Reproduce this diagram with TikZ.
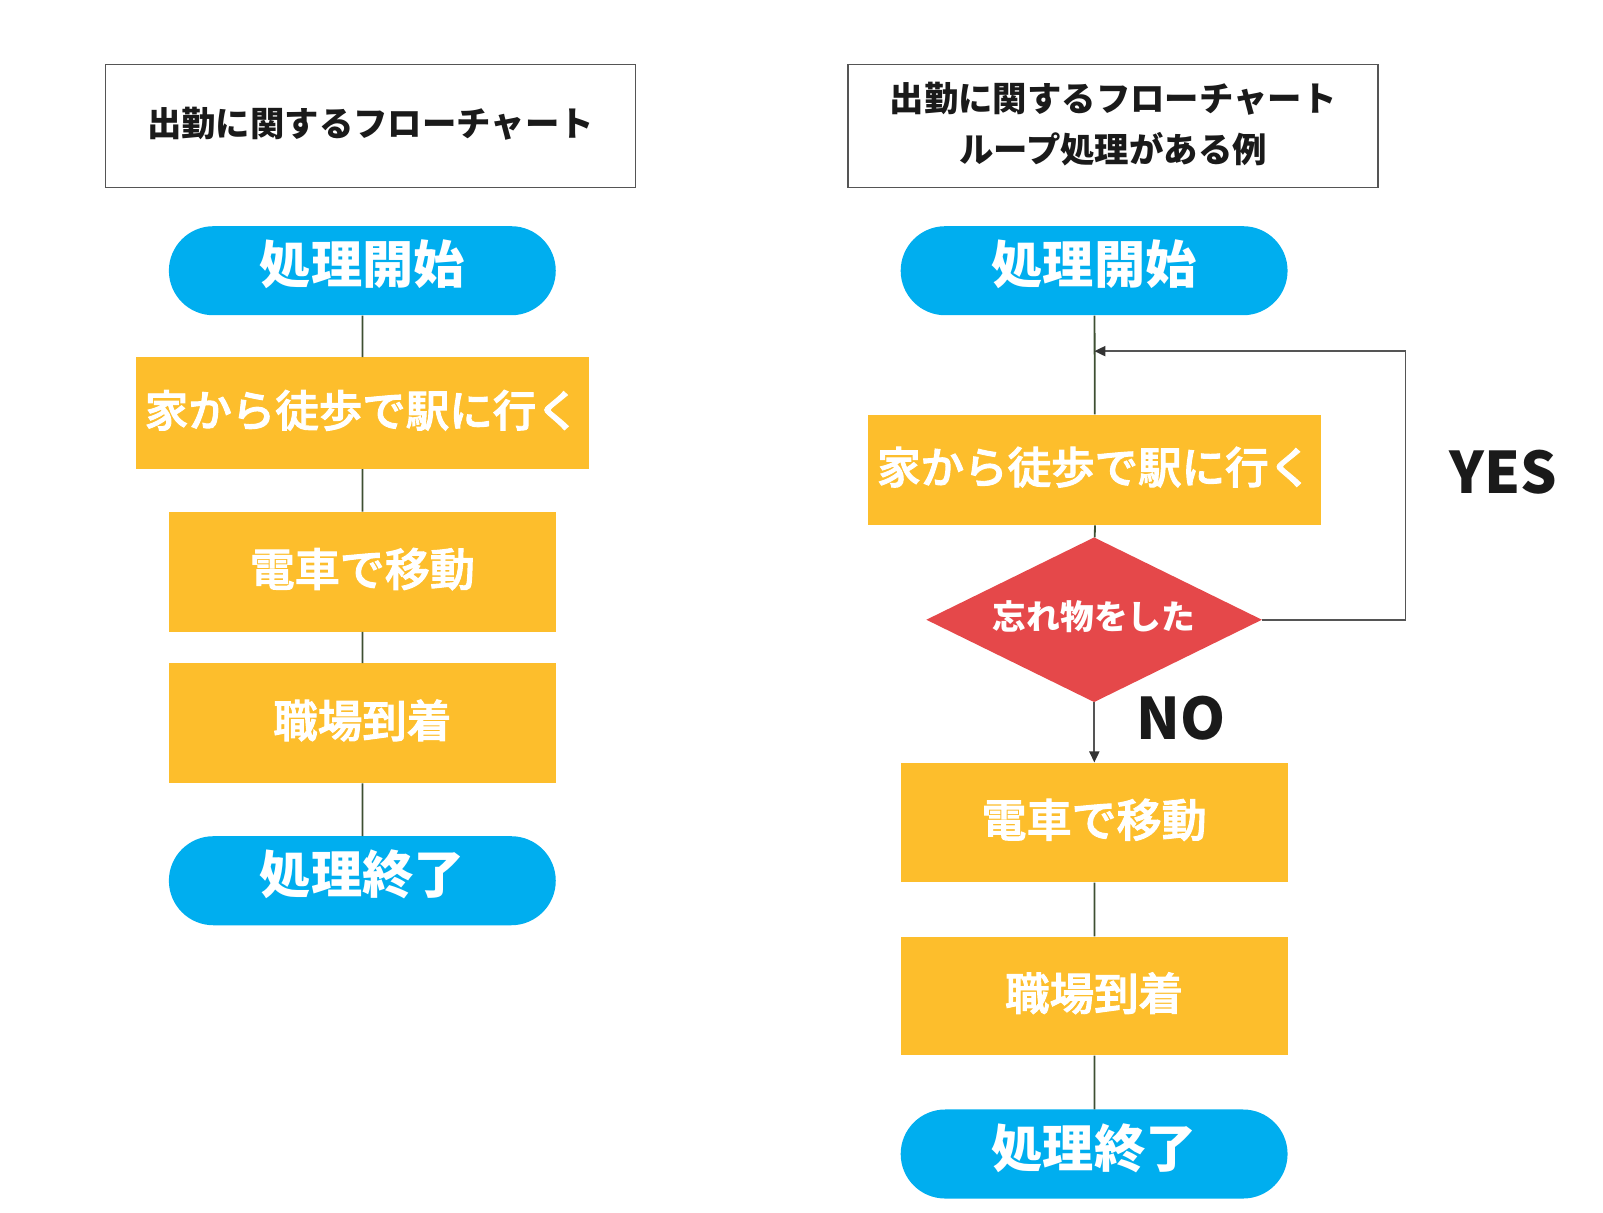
\documentclass[tikz,border=0pt]{standalone}
\usepackage{fontspec}
\setmainfont{Noto Sans CJK JP}
\newfontfamily\cjkmed{Noto Sans CJK JP Medium}[FakeBold=2.2]
\usetikzlibrary{shapes.geometric,shapes.misc,arrows.meta}
\definecolor{tblue}{RGB}{0,174,239}
\definecolor{torange}{RGB}{253,190,44}
\definecolor{tred}{RGB}{229,72,74}
\definecolor{tline}{RGB}{62,80,50}
\definecolor{tgrey}{RGB}{85,85,85}
\definecolor{ttext}{RGB}{26,26,26}
\begin{document}
\begin{tikzpicture}[x=1pt,y=-1pt,scale=1.0235,transform shape,
  titlebox/.style={draw=tgrey,line width=1.5pt,fill=white,minimum width=518pt,minimum height=120pt,inner sep=0pt,text=ttext,font=\fontsize{33.6}{49}\selectfont\bfseries,align=center,text depth=7pt},
  term/.style={rounded rectangle,fill=tblue,minimum width=378pt,minimum height=87pt,inner sep=0pt,text=white,font=\fontsize{50}{60}\selectfont\bfseries,text depth=17pt},
  proc/.style={rectangle,fill=torange,inner sep=0pt,text=white,text depth=9pt},
  dec/.style={diamond,fill=tred,minimum width=328pt,minimum height=161pt,inner sep=0pt,aspect=2,text=white,font=\fontsize{33}{40}\selectfont\bfseries,text depth=10pt},
  conn/.style={draw=tline,line width=1.8pt},
  loop/.style={draw=tgrey,line width=1.8pt},
  tip/.style={-{Triangle[length=11pt,width=10pt,color=black!80]}},
  lbl/.style={text=ttext,font=\fontsize{56}{60}\selectfont\bfseries,inner sep=0pt}
]
\useasboundingbox (0,0) rectangle (1566.2,1185.1);
% left column
\node[titlebox] (lt) at (362,123) {出勤に関するフローチャート};
\node[term] (ls) at (354,264.5) {処理開始};
\node[proc,minimum width=442pt,minimum height=109pt,font=\cjkmed\fontsize{42.5}{50}\selectfont] (l1) at (354,403.5) {家から徒歩で駅に行く};
\node[proc,minimum width=378pt,minimum height=117pt,font=\cjkmed\fontsize{44}{50}\selectfont] (l2) at (354,558.5) {電車で移動};
\node[proc,minimum width=378pt,minimum height=117pt,font=\cjkmed\fontsize{43.5}{50}\selectfont] (l3) at (354,706.5) {職場到着};
\node[term] (le) at (354,860.5) {処理終了};
\draw[conn] (ls) -- (l1);
\draw[conn] (l1) -- (l2);
\draw[conn] (l2) -- (l3);
\draw[conn] (l3) -- (le);
% right column
\node[titlebox] (rt) at (1087.5,123) {出勤に関するフローチャート\\ループ処理がある例};
\node[term] (rs) at (1069,264.5) {処理開始};
\node[proc,minimum width=443pt,minimum height=108pt,font=\cjkmed\fontsize{42.5}{50}\selectfont] (r1) at (1069.5,459) {家から徒歩で駅に行く};
\node[dec] (rd) at (1069,605.5) {忘れ物をした};
\node[proc,minimum width=378pt,minimum height=117pt,font=\cjkmed\fontsize{44}{50}\selectfont] (r2) at (1069,803.5) {電車で移動};
\node[proc,minimum width=378pt,minimum height=116pt,font=\cjkmed\fontsize{43.5}{50}\selectfont] (r3) at (1069,973) {職場到着};
\node[term] (re) at (1069,1127.5) {処理終了};
\coordinate (lp) at (1069,343);
\coordinate (c1) at (1373,605.5);
\coordinate (c2) at (1373,343);
\draw[conn] (rs) -- (r1);
\draw[conn] (r1) -- (rd);
\draw[loop,tip] (rd.east) -- (c1) -- (c2) -- (lp);
\draw[loop,tip] (rd.south) -- (r2.north);
\draw[conn] (r2) -- (r3);
\draw[conn] (r3) -- (re);
\node[lbl] (yes) at (1469,461) {YES};
\node[lbl] (no) at (1154,702) {NO};
\end{tikzpicture}
\end{document}
